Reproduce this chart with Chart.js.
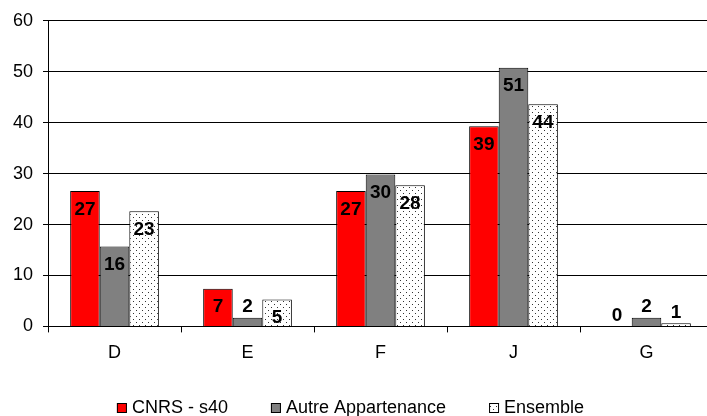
<!DOCTYPE html>
<html>
<head>
<meta charset="utf-8">
<script src="https://cdn.jsdelivr.net/npm/chart.js@4"></script>
<style>
  html, body { margin: 0; padding: 0; overflow: hidden; background: #fff; }
  #wrap { width: 713px; height: 416px; }
</style>
</head>
<body>
<div id="wrap"><canvas id="myChart"></canvas></div>
<script>
// values
var categories = ['D', 'E', 'F', 'J', 'G'];
var cnrs = [26.6, 7.4, 26.6, 39.3, 0];
var autre = [15.7, 1.7, 29.8, 50.8, 1.7];
var ensemble = [22.6, 5.3, 27.7, 43.6, 0.6];
var seriesNames = ['CNRS - s40', 'Autre Appartenance', 'Ensemble'];
var yTicks = [0, 10, 20, 30, 40, 50, 60];

var fontFamily = '"Liberation Sans", Arial, sans-serif';
var font = { family: fontFamily, size: 18 };

// dotted fill for "Ensemble"
function dots() {
  var c = document.createElement('canvas');
  c.width = 6; c.height = 6;
  var g = c.getContext('2d');
  g.fillStyle = '#fff';
  g.fillRect(0, 0, 6, 6);
  g.fillStyle = '#333';
  g.fillRect(1, 1, 1, 1);
  g.fillRect(4, 4, 1, 1);
  return g.createPattern(c, 'repeat');
}

// value labels, inside the top of the bar or above it when it is short
var barLabels = {
  id: 'barLabels',
  afterDatasetsDraw: function (chart) {
    var ctx = chart.ctx;
    ctx.save();
    ctx.font = 'bold 19px ' + fontFamily;
    ctx.fillStyle = '#000';
    ctx.textAlign = 'center';
    chart.data.datasets.forEach(function (ds, i) {
      chart.getDatasetMeta(i).data.forEach(function (bar, j) {
        var txt = String(Math.round(ds.data[j]));
        var h = bar.base - bar.y;
        if (h > 20) {
          ctx.textBaseline = 'top';
          ctx.fillText(txt, bar.x, bar.y + 9);
        } else {
          ctx.textBaseline = 'bottom';
          ctx.fillText(txt, bar.x, bar.y - 1);
        }
      });
    });
    ctx.restore();
  }
};

// legend drawn by hand so the items can sit far apart on one line
var bottomLegend = {
  id: 'bottomLegend',
  afterDraw: function (chart) {
    var ctx = chart.ctx;
    ctx.save();
    ctx.font = '18px ' + fontFamily;
    var gap = 43, box = 10, space = 5;
    var widths = chart.data.datasets.map(function (ds) { return box + space + ctx.measureText(ds.label).width; });
    var total = widths.reduce(function (a, b) { return a + b; }, 0) + gap * (widths.length - 1);
    var x = (chart.width - total) / 2 - 6;
    var y = 408;
    chart.data.datasets.forEach(function (ds, i) {
      ctx.fillStyle = ds.backgroundColor;
      ctx.fillRect(x, y - 5, box, box);
      ctx.strokeStyle = '#000';
      ctx.lineWidth = 1;
      ctx.strokeRect(x + 0.5, y - 4.5, box - 1, box - 1);
      ctx.fillStyle = '#000';
      ctx.textBaseline = 'middle';
      ctx.fillText(ds.label, x + box + space, y);
      x += widths[i] + gap;
    });
    ctx.restore();
  }
};

new Chart(document.getElementById('myChart'), {
  type: 'bar',
  data: {
    labels: categories,
    datasets: [
      { label: seriesNames[0], data: cnrs, backgroundColor: '#ff0000', borderColor: '#000', borderWidth: 1 },
      { label: seriesNames[1], data: autre, backgroundColor: '#808080', borderColor: '#000', borderWidth: 1 },
      { label: seriesNames[2], data: ensemble, backgroundColor: dots(), borderColor: '#000', borderWidth: 1 }
    ]
  },
  options: {
    responsive: true,
    maintainAspectRatio: false,
    animation: false,
    devicePixelRatio: 1,
    layout: { padding: { top: 16, left: 3, right: 0, bottom: 42 } },
    datasets: { bar: { categoryPercentage: 0.667, barPercentage: 1.0 } },
    plugins: {
      tooltip: { enabled: false },
      legend: { display: false }
    },
    scales: {
      x: {
        grid: { offset: true, drawOnChartArea: false, drawTicks: true, tickLength: 6, color: '#000' },
        border: { color: '#000' },
        ticks: { font: font, color: '#000', padding: 10 }
      },
      y: {
        min: 0,
        max: 60,
        afterBuildTicks: function (axis) { axis.ticks = yTicks.map(function (v) { return { value: v }; }); },
        grid: { color: '#000', tickLength: 5 },
        border: { color: '#000' },
        ticks: { font: font, color: '#000', padding: 10 }
      }
    }
  },
  plugins: [barLabels, bottomLegend]
});
</script>
</body>
</html>
